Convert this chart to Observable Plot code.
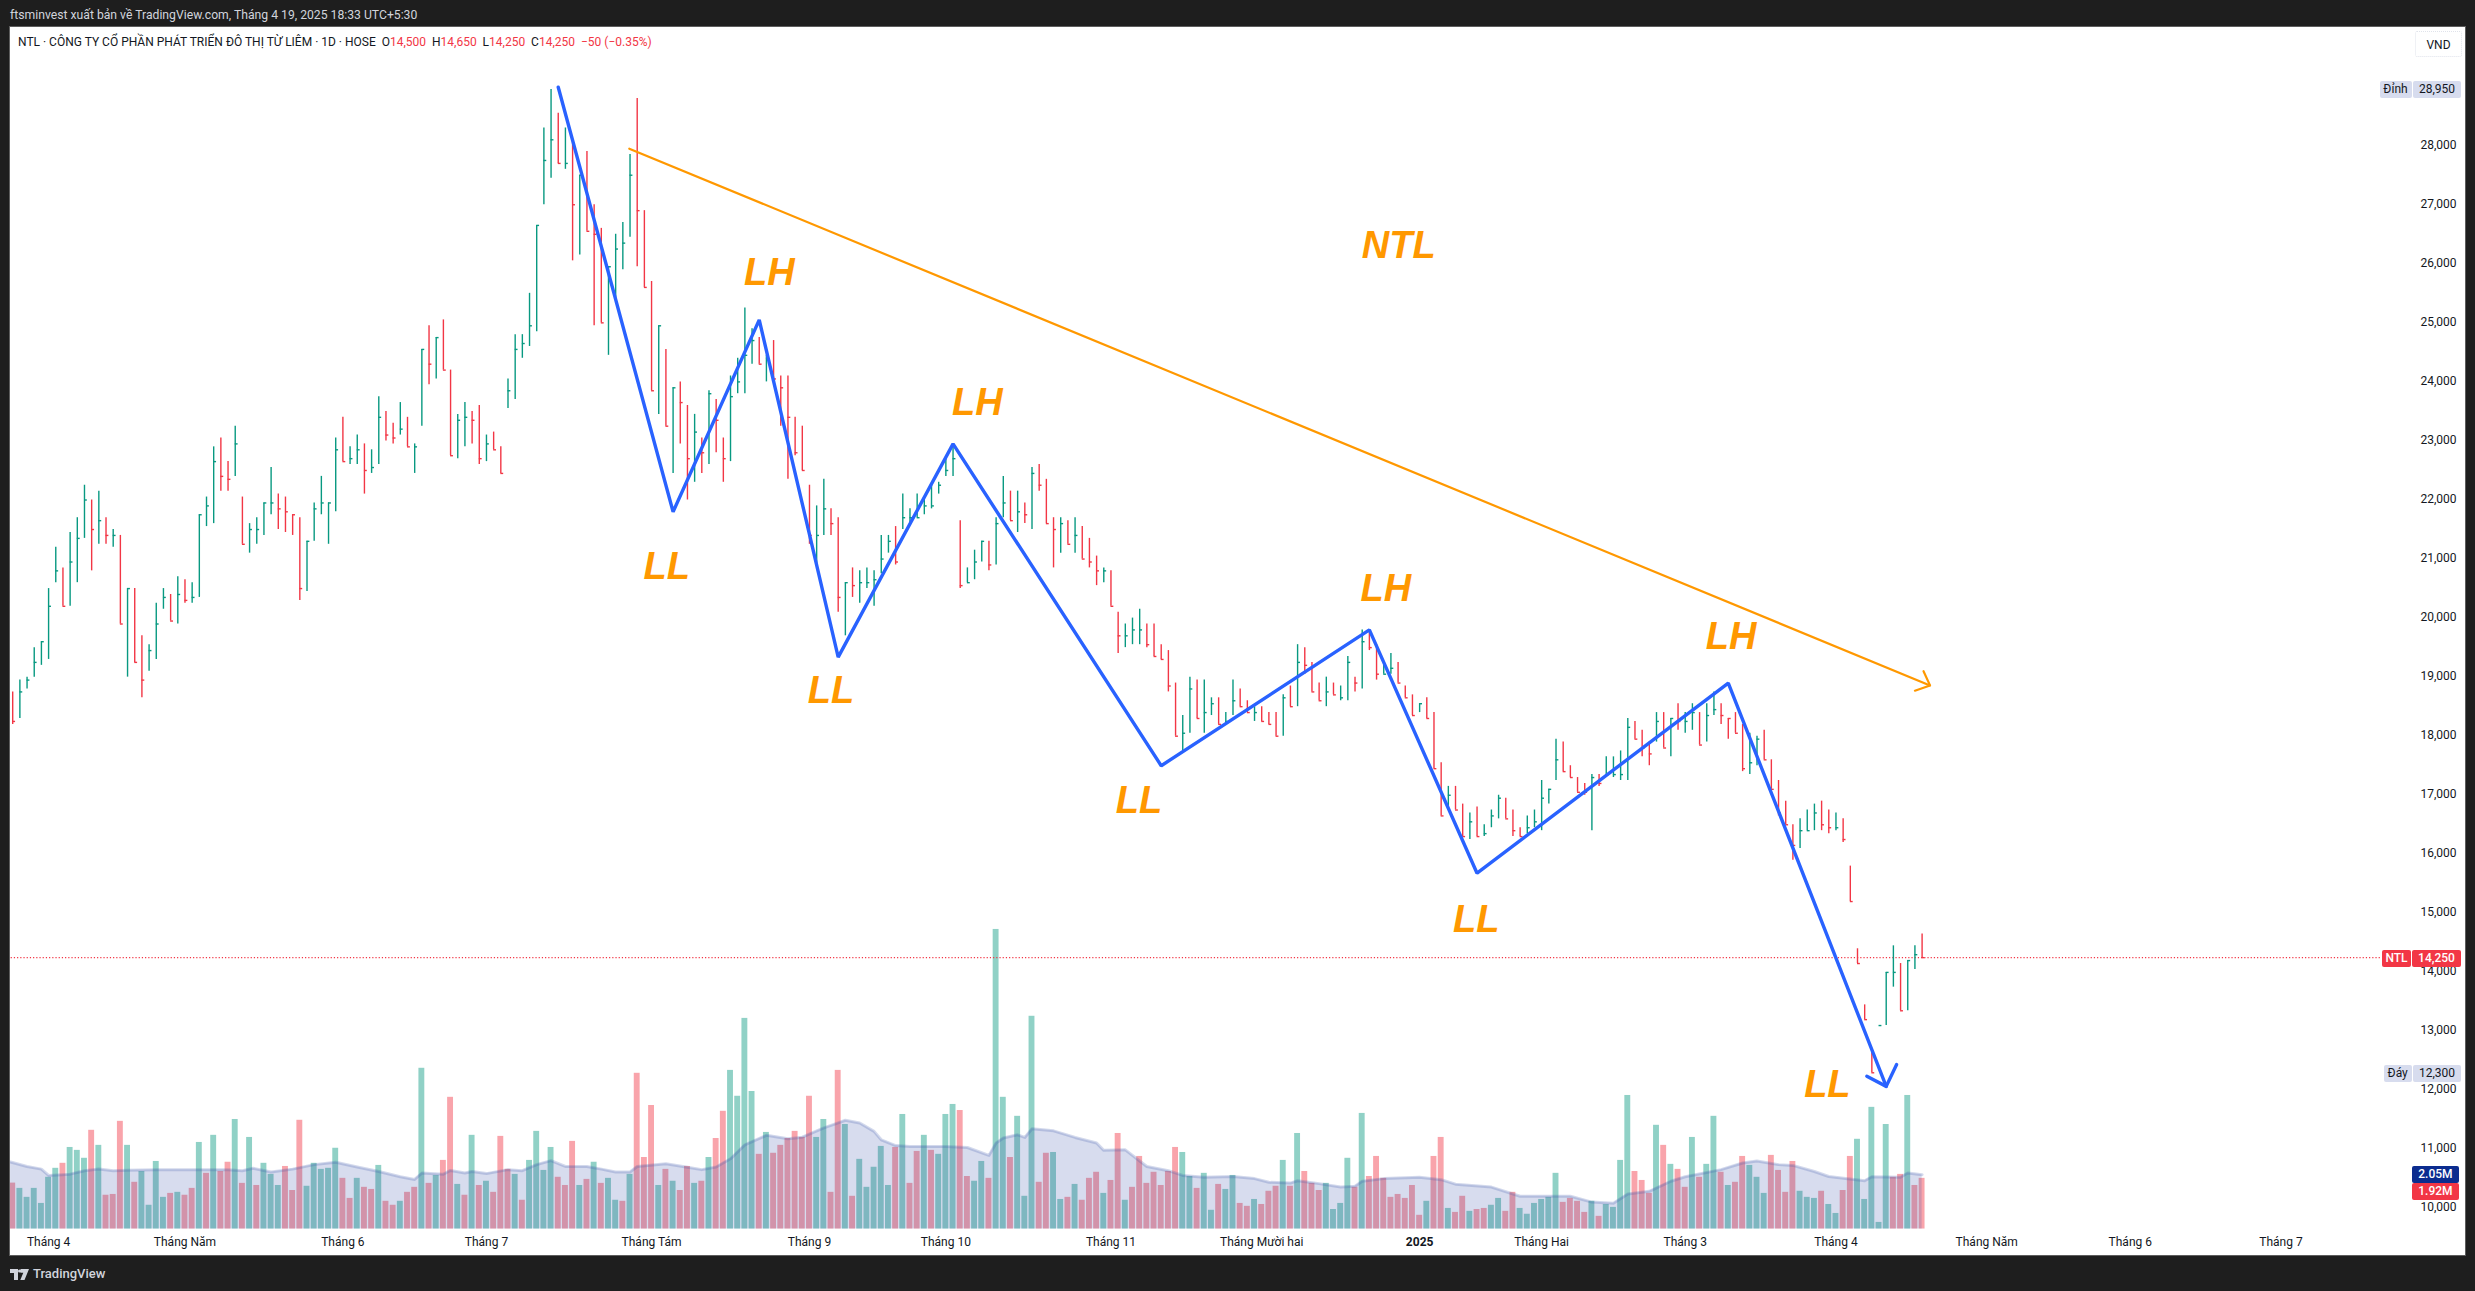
<!DOCTYPE html>
<html><head><meta charset="utf-8">
<script src="https://cdn.jsdelivr.net/npm/d3@7"></script>
<script src="https://cdn.jsdelivr.net/npm/@observablehq/plot@0.6"></script>
<style>
html,body{margin:0;padding:0;background:#1e1e1e;width:2475px;height:1291px;overflow:hidden;font-family:Roboto,"Liberation Sans",sans-serif}
#top{position:absolute;left:10px;top:7px;color:#d1d4dc;font-size:12.2px;line-height:16px;white-space:pre}
#pane{position:absolute;left:10px;top:27px;width:2455px;height:1228px;background:#fff;overflow:hidden;box-shadow:0 0 0 1px #5d5d5d}
#pane svg{display:block}
#legend{position:absolute;left:8px;top:7px;font-size:12px;line-height:16px;color:#131722;white-space:pre}
#legend b{font-weight:400;color:#f23645}
#foot{position:absolute;left:10px;top:1265px;color:#d1d4dc;font-size:13px;line-height:18px;font-weight:500;display:flex;align-items:center;gap:4px}
.badge{position:absolute;height:17px;line-height:17px;font-size:12px;text-align:center;color:#131722;white-space:pre}
</style></head><body>
<div id="top">ftsminvest xuất bản về TradingView.com, Tháng 4 19, 2025 18:33 UTC+5:30</div>
<div id="pane"><div id="legend"></div></div>
<div id="foot"><svg width="19" height="11" viewBox="0 0 19 11"><path d="M0 0h8v11H4V4H0zM10.5 0h8.5l-4.5 11h-4.2l3-7.2h-2.8z" fill="#d1d4dc"/><circle cx="9.6" cy="2" r="1.6" fill="#d1d4dc"/></svg><span>TradingView</span></div>
<script>
const symbolTitle = "NTL · CÔNG TY CỔ PHẦN PHÁT TRIỂN ĐÔ THỊ TỪ LIÊM · 1D · HOSE";
const highs = [18750,18950,19000,19500,19600,20500,21200,20850,21450,21700,
22250,22000,22150,21700,21500,21400,20500,20500,19700,19550,
20250,20500,20400,20700,20650,20600,21750,22050,22900,23050,
22650,23250,22050,21600,21700,21950,22550,22100,22050,21750,
21700,21300,21950,22400,21950,23050,23400,22900,23100,22950,
22850,23750,23500,23300,23650,23400,22950,24550,24950,24750,
25050,24200,23450,23650,23500,23600,23100,23150,22900,24050,
24800,24800,25500,26650,28300,28950,28550,28300,28100,27500,
27900,27000,26600,25950,26500,26700,27850,28800,26900,25700,
24950,24550,23900,24000,23600,23450,23050,23850,23700,23050,
24100,24400,25250,24900,24750,24450,24700,24100,24100,23400,
23250,22250,21900,22350,21850,21700,20600,20850,20800,20850,
20800,21400,21400,21550,22100,21850,22100,22050,22250,22300,
22700,22950,21650,20850,21150,21300,21300,21700,22400,22150,
22150,21950,22550,22600,22350,21700,21700,21650,21700,21550,
21350,21050,20850,20800,20100,19900,20000,20150,19900,19900,
19550,19450,18900,18350,19000,18950,18950,18650,18650,18400,
18950,18800,18600,18500,18500,18400,18400,18700,18850,19550,
19500,19250,18900,19000,18900,18850,19350,19000,19800,19800,
19550,19200,19400,19250,18850,18700,18550,18650,18400,17550,
17150,17150,16850,16700,16800,16500,16750,17000,16950,16750,
16450,16650,16750,17250,17100,17950,17900,17500,17300,17200,
17350,17350,17650,17650,17750,18300,18250,18100,17900,18400,
18400,18300,18550,18400,18550,18400,18550,18750,18550,18300,
18400,18200,18050,18000,18100,17600,17250,16900,16500,16600,
16750,16850,16900,16750,16700,16600,15800,14400,13450,12650,
13100,14000,14450,14150,14200,14450,14650];
const lows = [18200,18300,18800,19000,19200,19300,20600,20200,20200,20600,
21350,20800,21250,21250,21200,19900,19000,19250,18650,19100,
19300,20150,19950,19900,20250,20250,20350,21550,21600,22150,
22150,22400,21250,21100,21250,21400,21750,21500,21450,21400,
20300,20450,21300,21750,21250,21800,22650,22600,22600,22100,
22450,22600,23000,22950,23100,22900,22450,23250,23950,24050,
24200,22750,22700,22900,22950,22600,22650,22850,22450,23550,
23700,24400,24600,24850,27000,27450,27700,27600,26050,26150,
26550,24950,25000,24450,25400,25900,26450,25950,25600,23850,
23450,23250,22450,22950,22000,22300,22450,22600,22800,22300,
22650,23800,23800,24300,24300,24000,24050,23250,22350,22750,
22500,21250,20900,21400,21400,20100,19700,20350,20250,20500,
20200,20750,21100,20900,21500,21600,21700,21750,21850,22100,
22400,22400,20500,20600,20650,20950,20800,20900,21700,21650,
21450,21600,21500,22150,21600,20850,21100,21250,21100,21000,
20850,20550,20600,20200,19400,19500,19550,19550,19500,19350,
19300,18750,18000,17750,18050,18300,18050,18350,18200,18200,
18350,18500,18400,18250,18250,18200,18000,18000,18500,18500,
19050,18750,18600,18500,18700,18600,18600,18750,18800,19450,
18950,19050,19050,18900,18650,18350,18400,18300,17450,16650,
16750,16750,16300,16250,16300,16300,16450,16600,16600,16300,
16300,16350,16450,16400,16850,17250,17400,17300,17050,17000,
16400,17150,17300,17300,17250,17250,17950,17650,17500,17900,
17800,17650,18100,18050,18100,17850,17900,18350,18200,17950,
18050,17400,17350,17500,17600,17100,16650,16500,15900,16100,
16400,16400,16400,16350,16400,16200,15200,14150,13200,12300,
13100,13100,13750,13350,13350,14050,14250];
const closes = [18250,18750,18950,19250,19600,20200,20800,20200,20950,21350,
22000,21500,21650,21400,21400,19900,20500,19250,18950,19450,
19900,20350,19950,20400,20300,20350,21750,21900,22650,22400,
22350,22950,21250,21500,21500,21950,21950,21850,21800,21750,
20500,21300,21850,21950,21950,22850,22650,22700,22850,22500,
22550,23400,23100,23050,23200,22900,22900,24550,24300,24750,
24200,22750,23350,23400,23350,22700,22950,22850,22450,23850,
24550,24650,24950,26650,27750,28100,27700,27700,27000,27500,
26550,26500,25000,25950,26250,26350,27500,26900,25600,23850,
24950,23250,23900,23650,22700,23150,22800,23800,23350,22700,
23750,24000,24450,24700,24300,24400,24050,23900,23400,22800,
22500,21400,21400,21850,21600,20350,20600,20550,20600,20600,
20650,21000,21300,20950,21700,21700,21700,21900,21900,22250,
22500,22700,20550,20600,20950,21300,20900,21600,21950,21650,
21800,21750,22450,22250,21600,21500,21600,21250,21400,21000,
20950,20800,20800,20200,19700,19700,19800,19800,19550,19350,
19300,18850,18000,18050,18800,18300,18400,18550,18200,18250,
18600,18500,18400,18400,18250,18200,18000,18650,18500,19250,
19200,18750,18600,18750,18700,18650,19250,18900,19600,19500,
19050,19050,19150,18900,18650,18350,18550,18300,17450,16650,
17000,16750,16300,16550,16300,16350,16650,16950,16600,16400,
16300,16450,16550,16950,17100,17600,17400,17300,17050,17050,
17300,17200,17350,17350,17350,18150,17950,17800,17700,18250,
17800,18300,18250,18250,18400,17850,18350,18450,18350,18300,
18050,17450,17550,17950,17600,17100,16700,16500,16150,16400,
16400,16700,16500,16450,16450,16250,15200,14150,13200,12300,
13100,14000,14000,13350,14200,14300,14250];
const barDirections = ("RGGGGGGRGG"+"GRGRGRGRRG"+"GGRGRGGGGR"+"RGRGGGGRRR"+"RGGGGGRGGR"+"GGRRGRGGRG"+"RRGGRRGRRG"+"GGGGGGRGRG"+"RRRGGGGRRR"+"GRGRRGRGRR"+"GGGGRGRRRR"+"RRGGRRGRGG"+"GGGRGGGGGG"+"GGRGGGRGGR"+"GRGRRRGRGR"+"RRGRRGGGRR"+"RRRGGRGGRG"+"GRRGRRRGRG"+"RRRGRGGRGR"+"RGGRRRGRRR"+"GRRGRGGGRR"+"RGGGGGRRRR"+"GRGGGGRRRG"+"RGRGGRGGRR"+"RRGGRRRRRG"+"GGRRGRRRRR"+"GGGRGGR").split("");
const volumes = [1.74,1.54,1.20,1.54,.97,1.96,2.30,2.49,3.09,2.98,
2.68,3.74,3.17,1.28,1.31,4.08,3.17,1.77,2.18,.90,
2.56,1.20,1.35,1.39,1.28,1.54,3.28,2.11,3.55,2.18,
2.53,4.15,1.73,3.47,1.65,2.49,2.07,1.65,2.37,1.46,
4.12,1.62,2.49,2.26,2.30,3.06,1.92,1.16,1.92,1.58,
1.50,2.41,1.05,.90,1.05,1.39,1.58,6.09,1.73,2.03,
2.60,4.99,1.69,1.28,3.55,1.65,1.81,1.39,3.51,2.26,
2.07,1.09,2.60,3.70,2.22,3.09,1.96,1.65,3.32,1.65,
1.88,2.53,1.73,1.92,1.09,1.05,2.07,5.90,2.71,4.68,
1.65,2.26,1.81,1.46,2.37,1.73,1.81,2.71,3.43,4.46,
6.01,5.03,7.98,5.21,2.83,3.66,2.87,3.17,3.43,3.70,
3.47,5.03,3.47,4.15,1.39,6.01,3.96,1.24,2.64,1.58,
2.34,3.13,1.65,3.09,4.34,1.73,2.94,3.55,2.98,2.83,
4.34,4.72,4.49,1.99,1.81,2.56,1.92,11.35,4.99,2.71,
4.27,1.24,8.06,1.77,2.87,2.90,1.12,1.20,1.69,1.09,
1.92,2.15,1.35,1.84,3.62,1.09,1.58,2.75,1.73,2.15,
1.65,2.18,3.09,2.90,1.99,1.54,2.11,.71,1.69,1.50,
2.03,.97,.86,1.12,.93,1.43,1.62,2.60,1.62,3.62,
2.18,1.73,1.46,1.73,.74,.97,2.68,1.58,4.38,1.99,
2.75,1.92,1.20,1.31,1.16,1.65,.52,1.05,2.75,3.47,
.78,.63,1.24,.67,.74,.78,.90,1.16,.67,1.39,
.78,.56,.97,1.12,1.20,2.11,1.01,1.16,1.05,.63,
1.05,.48,.93,.82,2.60,5.06,2.18,1.84,1.35,3.93,
3.17,2.45,2.26,1.58,3.47,1.96,2.45,4.27,2.15,1.65,
1.77,2.75,2.41,1.96,1.35,2.79,2.22,1.39,2.56,1.43,
1.20,1.16,1.43,.93,.59,1.46,2.75,3.40,1.12,4.61,
.25,3.96,1.96,2.07,5.06,1.65,1.92];
const volumeDirections = ("RGGGGGGRGG"+"GRGRRRGRGG"+"GGRGRRGRGR"+"RGRGRGGGRR"+"RGGGGGRRGR"+"RGRRGRRGRG"+"RRGRGRGRRR"+"GRGGGGRRRG"+"RGRGGRGRRR"+"GRGRRGRGRR"+"GGGGRGRRRR"+"RRGGRRGRGG"+"GGGRGRRGRG"+"GGRRGGRGGR"+"GGGRRGGRGR"+"RRGRRGRRRR"+"RRRGGRGGRG"+"GRRGRRRGRG"+"RRRGGGGRGR"+"RRRRRRRGRR"+"GRRGRRGGRR"+"GGGGGGRRRR"+"GRGGGGRRRG"+"RGRRGRGGRG"+"RRGGGRRRRG"+"GGRGGRRGGG"+"GGRRGRR").split("");
const maBars = [-0.3,2,4,5,8,10,12,14,16,20,25,30,32,33.5,36,39,42,45,48,51,54,56,57,60,61,63,64,66,69,71,73,75,77,80,82,84,86,87,91,94,96,98,100,102,105,108,110,113,115,116,118,120,121,123,125,130,133,136,137,138,140,141,142,145,148,151,152,155,158,161,163,166,170,173,175,178,179,182,185,187,188,191,196,199,201,206,210,217,220,223,225,228,231,233,238,241,243,246,248,251,253,258,259,263,264,266];
const maVolumes = [2.54,2.37,2.27,2.03,2.08,2.21,2.27,2.21,2.23,2.25,2.25,2.25,2.21,2.30,2.16,2.27,2.44,2.53,2.35,2.18,1.98,1.88,2.12,2.08,2.22,2.12,2.18,2.10,2.25,2.21,2.44,2.59,2.37,2.37,2.27,2.16,2.16,2.37,2.47,2.34,2.25,2.35,2.66,3.19,3.55,3.42,3.48,3.83,4.02,4.12,4.02,3.70,3.38,3.16,3.13,3.13,3.09,2.79,3.26,3.45,3.57,3.47,3.80,3.72,3.47,3.26,2.98,3.00,2.37,2.21,2.03,1.96,1.99,1.91,1.77,1.74,1.83,1.72,1.59,1.62,1.81,1.91,1.96,1.87,1.70,1.59,1.24,1.24,1.02,.98,1.33,1.43,1.81,1.98,2.25,2.50,2.58,2.44,2.41,2.18,1.99,1.83,1.98,1.96,2.12,2.06];
const priceTicks = d3.range(10000,28001,1000);
const timeBars = [5,24,46,66,89,111,130,153,174,213,233,254,275,295,316];
const timeLabels = ["Tháng 4","Tháng Năm","Tháng 6","Tháng 7","Tháng Tám","Tháng 9","Tháng 10","Tháng 11","Tháng Mười hai","Tháng Hai","Tháng 3","Tháng 4","Tháng Năm","Tháng 6","Tháng 7"];
const yearBar = 196, yearLabel = "2025";
const swingBars = [76,92,104,115,131,160,189,204,239,261];
const swingPrices = [28990,21800,25050,19340,22950,17500,19800,15680,18900,12070];
const swingHeadBars = [258.3,261,262.45];
const swingHeadPrices = [12240,12070,12440];
const trendBars = [85.9,267.1];
const trendPrices = [27950,18860];
const trendHeadBars = [266.2,267.1,265];
const trendHeadPrices = [19100,18860,18770];
const swingLabels = ["LH","LL","LH","LL","LL","LH","LL","LH","LL","NTL"];
const labelBars = [105.4,91.1,134.4,114,156.9,191.3,203.9,239.4,252.8,193.1];
const labelPrices = [25840,20865,23640,18760,16900,20500,14895,19675,12090,26300];
const lastClose = 14250, peak = 28950, trough = 12300, lastVolume = 1.92, lastMA = 2.05;
const unitLabel = "VND", unitLevel = 29720;

// Volume shares the price axis through a fixed conversion (the pane's lower band).
const volumeBase = 9654, pricePerMillion = 447;
const volAsPrice = v => volumeBase + v * pricePerMillion;

const bars = highs.map((h,i)=>({i,high:h,low:lows[i],close:closes[i],dir:barDirections[i],vol:volumes[i],vdir:volumeDirections[i]}));
const ma = maBars.map((b,k)=>({i:b,v:maVolumes[k]}));
const swing = swingBars.map((b,k)=>({i:b,p:swingPrices[k]}));
const swingHead = swingHeadBars.map((b,k)=>({i:b,p:swingHeadPrices[k]}));
const trend = trendBars.map((b,k)=>({i:b,p:trendPrices[k]}));
const trendHead = trendHeadBars.map((b,k)=>({i:b,p:trendHeadPrices[k]}));
const labels = swingLabels.map((t,k)=>({t,i:labelBars[k],p:labelPrices[k]}));
const fontAxis = "Roboto,'Liberation Sans',sans-serif";

const chart = Plot.plot({
  width:2455,height:1228,marginTop:0,marginLeft:0,marginRight:9,marginBottom:18,
  style:{background:"#fff",fontFamily:fontAxis},
  x:{type:"linear",domain:[0,266],range:[2.2,1911.6],axis:null},
  y:{type:"linear",domain:[10000,28000],range:[1181.1,118.2],axis:null},
  color:{domain:["G","R"],range:["#089981","#f23645"]},
  marks:[
    Plot.rectY(bars,{x1:d=>d.i-0.41,x2:d=>d.i+0.41,y1:volumeBase,y2:d=>volAsPrice(d.vol),fill:"vdir",fillOpacity:0.45}),
    Plot.areaY(ma,{x:"i",y1:volumeBase,y2:d=>volAsPrice(d.v),fill:"#3750aa",fillOpacity:0.2}),
    Plot.lineY(ma,{x:"i",y:d=>volAsPrice(d.v),stroke:"#3750aa",strokeOpacity:0.22,strokeWidth:3}),
    Plot.ruleY([lastClose],{x1:-2,x2:330,stroke:"#f23645",strokeWidth:1.3,strokeDasharray:"1.2 2"}),
    Plot.ruleX(bars,{x:"i",y1:"low",y2:"high",stroke:"dir",strokeWidth:1.4}),
    Plot.ruleY(bars,{y:"close",x1:"i",x2:d=>d.i+0.4,stroke:"dir",strokeWidth:1.4}),
    Plot.line(trend,{x:"i",y:"p",stroke:"#ff9800",strokeWidth:2.2}),
    Plot.line(trendHead,{x:"i",y:"p",stroke:"#ff9800",strokeWidth:2.2}),
    Plot.line(swing,{x:"i",y:"p",stroke:"#2962ff",strokeWidth:3.4,strokeLinejoin:"miter"}),
    Plot.line(swingHead,{x:"i",y:"p",stroke:"#2962ff",strokeWidth:3.4}),
    Plot.text(labels,{x:"i",y:"p",text:"t",fill:"#ff9800",fontSize:38,fontWeight:"bold",fontStyle:"italic",fontFamily:"'Liberation Sans',sans-serif"}),
    Plot.axisY({anchor:"right",ticks:priceTicks,tickSize:0,tickPadding:0,textAnchor:"end",label:null,tickFormat:d3.format(","),fontSize:12,fill:"#131722",dy:-1}),
    Plot.axisX({anchor:"bottom",ticks:timeBars,tickSize:0,tickPadding:0,label:null,tickFormat:(d)=>timeLabels[timeBars.indexOf(d)],fontSize:12,fill:"#131722"}),
    Plot.axisX({anchor:"bottom",ticks:[yearBar],tickSize:0,tickPadding:0,label:null,tickFormat:()=>yearLabel,fontSize:12,fontWeight:"bold",fill:"#131722"})
  ]
});
const pane = document.getElementById("pane");
pane.insertBefore(chart,pane.firstChild);

// Legend line
const fmt = d3.format(",");
const legend = document.getElementById("legend");
legend.innerHTML = symbolTitle+"  O<b>14,500</b>  H<b>14,650</b>  L<b>14,250</b>  C<b>14,250</b>  <b>−50 (−0.35%)</b>";

// Price-scale badges placed through the chart's own y scale (left is in pane pixels)
const Y = chart.scale("y").apply;
function badge(left,width,text,centerY,bg,color,h=17,extra=""){
  const el = document.createElement("div");
  el.className="badge";
  el.textContent=text;
  el.style.cssText=`left:${left}px;width:${width}px;top:${centerY-h/2}px;height:${h}px;line-height:${h}px;background:${bg};color:${color};border-radius:2px;${extra}`;
  pane.appendChild(el);
}
const soft="#d7dcee";
const strong="font-weight:500";
badge(2405,47,unitLabel,Y(unitLevel),"transparent","#131722",26,"border:1px dotted #e0e3eb;box-sizing:border-box");
badge(2369.5,32,"Đỉnh",Y(peak),soft,"#131722");
badge(2403,48,fmt(peak),Y(peak),soft,"#131722");
badge(2372,29,"NTL",Y(lastClose)+1,"#f23645","#fff",17,strong);
badge(2402,49,fmt(lastClose),Y(lastClose)+1,"#f23645","#fff",17,strong);
badge(2373.7,28,"Đáy",Y(trough)+1,soft,"#131722");
badge(2403,48,fmt(trough),Y(trough)+1,soft,"#131722");
const maY = Y(volAsPrice(lastMA));
badge(2402,46.9,lastMA.toFixed(2)+"M",maY+0.3,"#0b2c8f","#fff",16.7,strong);
badge(2402,46.9,lastVolume.toFixed(2)+"M",maY+17,"#f23645","#fff",16.7,strong);
</script>
</body></html>
